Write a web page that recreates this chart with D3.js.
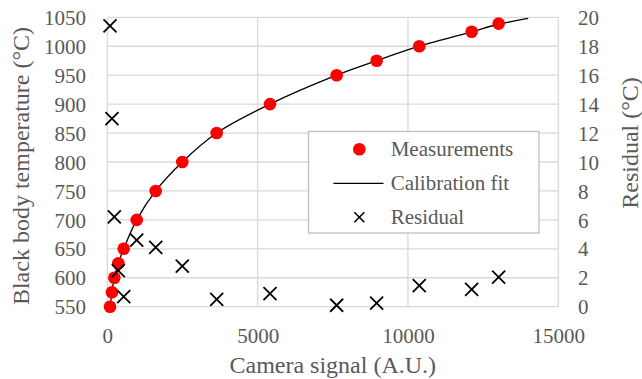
<!DOCTYPE html>
<html>
<head>
<meta charset="utf-8">
<script src="https://cdn.jsdelivr.net/npm/d3@7"></script>
<style>
  html, body { margin: 0; padding: 0; background: #fff; }
  svg { display: block; }
  text { font-family: "Liberation Serif", "Times New Roman", serif; fill: #595959; }
</style>
</head>
<body>
<svg id="chart" width="642" height="379"></svg>
<script>
// Black body calibration: camera signal vs. temperature, with fit residuals
const signal = [90, 155, 233, 366, 545, 978, 1609, 2494, 3638, 5411, 7628, 8958, 10376, 12118, 13016];
const temperature = [550, 575, 600, 625, 650, 700, 750, 800, 850, 900, 950, 975, 1000, 1025, 1039];
const residual = [19.4, 13.0, 6.2, 2.5, 0.7, 4.6, 4.1, 2.8, 0.5, 0.9, 0.1, 0.25, 1.45, 1.2, 2.05];

// Calibration fit curve, sampled along its length
const fitSignal = [90, 155, 233, 366, 545, 978, 1609, 2494, 3638, 5411, 7628, 8958, 10376, 12118, 13016, 14000];
const fitTemp = [549, 575, 600, 625, 650, 700, 750, 800, 850, 900, 950, 975, 1000, 1025, 1038, 1048];

const xTicks = [0, 5000, 10000, 15000];
const yTicks = [550, 600, 650, 700, 750, 800, 850, 900, 950, 1000, 1050];
const rTicks = [0, 2, 4, 6, 8, 10, 12, 14, 16, 18, 20];

const legendLabels = ["Measurements", "Calibration fit", "Residual"];

const svg = d3.select("#chart");
const plot = { left: 107.3, right: 558.3, top: 17.3, bottom: 306.7 };

const x = d3.scaleLinear().domain([0, 15000]).range([plot.left, plot.right]);
const y = d3.scaleLinear().domain([550, 1050]).range([plot.bottom, plot.top]);
const yR = d3.scaleLinear().domain([0, 20]).range([plot.bottom, plot.top]);

const gridColor = "#d9d9d9";
const fontSize = 21;
const titleSize = 24;

// Gridlines
svg.append("g").selectAll("line").data(yTicks).join("line")
  .attr("x1", plot.left).attr("x2", plot.right)
  .attr("y1", d => y(d)).attr("y2", d => y(d))
  .attr("stroke", gridColor).attr("stroke-width", 1.3);
svg.append("g").selectAll("line").data(xTicks).join("line")
  .attr("x1", d => x(d)).attr("x2", d => x(d))
  .attr("y1", plot.top).attr("y2", plot.bottom)
  .attr("stroke", gridColor).attr("stroke-width", 1.3);

// Axes (labels only, lines come from the grid)
const axisBottom = d3.axisBottom(x).tickValues(xTicks).tickSize(0).tickPadding(0).tickFormat(d3.format("d"));
const gx = svg.append("g").attr("transform", `translate(0,${plot.bottom})`).call(axisBottom);
const axisLeft = d3.axisLeft(y).tickValues(yTicks).tickSize(0).tickPadding(0).tickFormat(d3.format("d"));
const gy = svg.append("g").attr("transform", `translate(86,0)`).call(axisLeft);
const axisRight = d3.axisRight(yR).tickValues(rTicks).tickSize(0).tickPadding(0).tickFormat(d3.format("d"));
const gr = svg.append("g").attr("transform", `translate(578,0)`).call(axisRight);

[gx, gy, gr].forEach(g => {
  g.select(".domain").remove();
  g.selectAll("text")
    .attr("font-family", "Liberation Serif, Times New Roman, serif")
    .attr("font-size", fontSize)
    .attr("fill", "#595959");
});
gx.selectAll("text").attr("dy", null).attr("y", 36);
gy.selectAll("text").attr("dy", "0.34em");
gr.selectAll("text").attr("dy", "0.34em");

// Axis titles
svg.append("text")
  .attr("x", (plot.left + plot.right) / 2).attr("y", 373)
  .attr("text-anchor", "middle").attr("font-size", titleSize)
  .text("Camera signal (A.U.)");
svg.append("text")
  .attr("transform", `translate(29,166) rotate(-90)`)
  .attr("text-anchor", "middle").attr("font-size", titleSize)
  .text("Black body temperature (°C)");
svg.append("text")
  .attr("transform", `translate(638,143) rotate(-90)`)
  .attr("text-anchor", "middle").attr("font-size", titleSize)
  .text("Residual (°C)");

// Calibration fit line
const fitData = fitSignal.map((s, i) => [s, fitTemp[i]]);
svg.append("path")
  .datum(fitData)
  .attr("fill", "none").attr("stroke", "#000").attr("stroke-width", 1.3)
  .attr("d", d3.line().x(d => x(d[0])).y(d => y(d[1])).curve(d3.curveCatmullRom.alpha(0.5)));

// Measurement points
const meas = signal.map((s, i) => [s, temperature[i]]);
svg.append("g").selectAll("circle").data(meas).join("circle")
  .attr("cx", d => x(d[0])).attr("cy", d => y(d[1])).attr("r", 6.3)
  .attr("fill", "#ff0000");

// Residual markers
function cross(g, size, width) {
  g.append("line").attr("x1", -size).attr("y1", -size).attr("x2", size).attr("y2", size)
    .attr("stroke", "#000").attr("stroke-width", width);
  g.append("line").attr("x1", -size).attr("y1", size).attr("x2", size).attr("y2", -size)
    .attr("stroke", "#000").attr("stroke-width", width);
}
const res = signal.map((s, i) => [s, residual[i]]);
svg.append("g").selectAll("g").data(res).join("g")
  .attr("transform", d => `translate(${x(d[0])},${yR(d[1])})`)
  .each(function () { cross(d3.select(this), 6.5, 1.8); });

// Legend
const lg = svg.append("g");
lg.append("rect")
  .attr("x", 308.5).attr("y", 131.5).attr("width", 230.5).attr("height", 101.5)
  .attr("fill", "#fff").attr("stroke", "#bfbfbf").attr("stroke-width", 1.3);
const rowY = [149.3, 183.3, 217.3];
lg.append("circle").attr("cx", 359.3).attr("cy", rowY[0]).attr("r", 6.3).attr("fill", "#ff0000");
lg.append("line").attr("x1", 333.5).attr("x2", 383.5).attr("y1", rowY[1]).attr("y2", rowY[1])
  .attr("stroke", "#000").attr("stroke-width", 1.3);
cross(lg.append("g").attr("transform", `translate(359.3,${rowY[2]})`), 5, 1.6);
lg.selectAll("text.lbl").data(legendLabels).join("text")
  .attr("class", "lbl")
  .attr("x", 390.7).attr("y", (d, i) => rowY[i]).attr("dy", "0.34em")
  .attr("font-size", fontSize)
  .text(d => d);
</script>
</body>
</html>
